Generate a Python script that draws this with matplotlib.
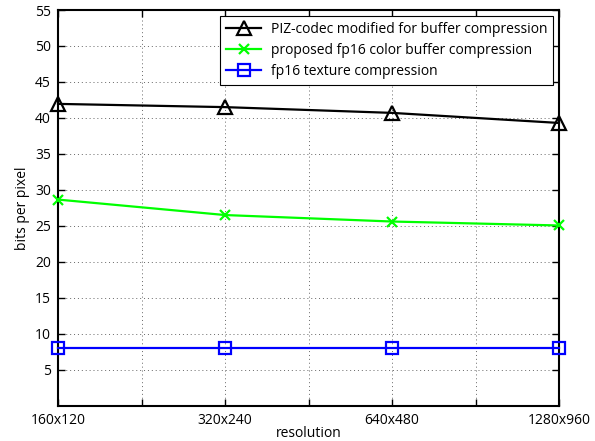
import matplotlib.pyplot as plt

resolutions = ["160x120", "320x240", "640x480", "1280x960"]
piz_codec = [41.95, 41.5, 40.7, 39.3]
proposed_fp16 = [28.65, 26.5, 25.6, 25.05]
fp16_texture = [8.0, 8.0, 8.0, 8.0]

x = [1, 2, 3, 4]

plt.rcParams['font.family'] = ['Open Sans', 'DejaVu Sans']
plt.rcParams['font.size'] = 10

fig = plt.figure(figsize=(5.95, 4.41), dpi=100)
ax = fig.add_axes([58 / 595, 1 - 405.7 / 441, 501 / 595, 395.7 / 441])

ax.plot(x, piz_codec, color="black", lw=1.6, marker="^", ms=10, mfc="none",
        mew=1.6, clip_on=False, zorder=3,
        label="PIZ-codec modified for buffer compression")
ax.plot(x, proposed_fp16, color="#00ff00", lw=1.6, marker="x", ms=7,
        mew=1.6, clip_on=False, zorder=3,
        label="proposed fp16 color buffer compression")
ax.plot(x, fp16_texture, color="#0000ff", lw=1.6, marker="s", ms=8, mfc="none",
        mew=1.6, clip_on=False, zorder=3, label="fp16 texture compression")

ax.set_xlim(1, 4)
ax.set_ylim(0, 55)
ax.set_xticks([1, 1.5, 2, 2.5, 3, 3.5, 4])
ax.set_xticklabels([resolutions[0], "", resolutions[1], "", resolutions[2], "", resolutions[3]])
ax.set_yticks(range(5, 56, 5))

ax.grid(True, color="#666666", linestyle=(0, (1, 3)), linewidth=0.7)
ax.tick_params(direction="in", top=True, right=True, length=5, width=1, pad=5)
for s in ax.spines.values():
    s.set_linewidth(1.5)

ax.set_xlabel("resolution", labelpad=-1)
ax.set_ylabel("bits per pixel")

leg = ax.legend(loc="upper right", bbox_to_anchor=(0.989, 0.985), fancybox=False,
                edgecolor="black", framealpha=1, borderaxespad=0,
                handlelength=2.5, labelspacing=0.42, fontsize=10,
                borderpad=0.45, handletextpad=0.7)
leg.get_frame().set_linewidth(0.8)

fig.savefig("out.png", dpi=100)
